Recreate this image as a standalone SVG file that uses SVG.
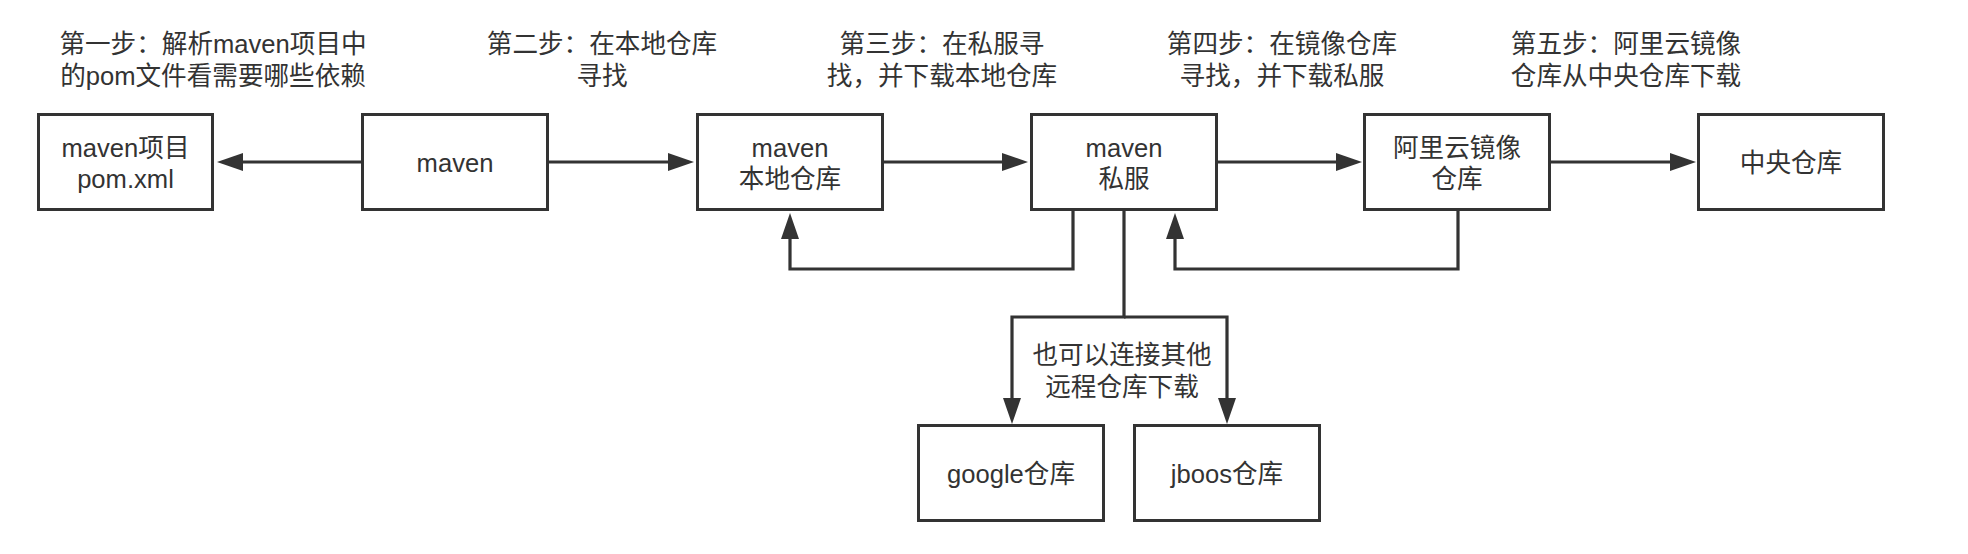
<svg xmlns="http://www.w3.org/2000/svg" width="1968" height="554" viewBox="0 0 1968 554">
<style>
.box{fill:#ffffff;stroke:#333333;stroke-width:3}
.t{font-family:"Liberation Sans","Noto Sans CJK SC",sans-serif;font-size:25.6px;fill:#333333;text-anchor:middle}
.c{fill:none;stroke:#333333;stroke-width:3.2;stroke-linejoin:miter}
</style>
<defs>
<marker id="ah" markerUnits="userSpaceOnUse" markerWidth="26" markerHeight="18" viewBox="0 0 26 18" refX="2" refY="9" orient="auto">
<path d="M0,0 L26,9 L0,18 Z" fill="#333333"/>
</marker>
</defs>
<rect width="1968" height="554" fill="#ffffff"/>
<g id="labels">
<text class="t" x="213" y="53">第一步：解析maven项目中</text>
<text class="t" x="213" y="85">的pom文件看需要哪些依赖</text>
<text class="t" x="602" y="53">第二步：在本地仓库</text>
<text class="t" x="602" y="85">寻找</text>
<text class="t" x="942" y="53">第三步：在私服寻</text>
<text class="t" x="942" y="85">找，并下载本地仓库</text>
<text class="t" x="1282" y="53">第四步：在镜像仓库</text>
<text class="t" x="1282" y="85">寻找，并下载私服</text>
<text class="t" x="1626" y="53">第五步：阿里云镜像</text>
<text class="t" x="1626" y="85">仓库从中央仓库下载</text>
</g>
<g id="connectors">
<path class="c" d="M362,162 H241" marker-end="url(#ah)"/>
<path class="c" d="M548,162 H670" marker-end="url(#ah)"/>
<path class="c" d="M882,162 H1004" marker-end="url(#ah)"/>
<path class="c" d="M1216,162 H1338" marker-end="url(#ah)"/>
<path class="c" d="M1550,162 H1672" marker-end="url(#ah)"/>
<path class="c" d="M1073,210 V269 H790 V237" marker-end="url(#ah)"/>
<path class="c" d="M1458,210 V269 H1175 V237" marker-end="url(#ah)"/>
<path class="c" d="M1124,210 V317 H1012 V400" marker-end="url(#ah)"/>
<path class="c" d="M1124,317 H1227 V400" marker-end="url(#ah)"/>
<text class="t" x="1122" y="364">也可以连接其他</text>
<text class="t" x="1122" y="396">远程仓库下载</text>
</g>
<g id="node-project">
<rect class="box" x="38.5" y="114.5" width="174" height="95"/>
<text class="t" x="125.5" y="156.5">maven项目</text>
<text class="t" x="125.5" y="188">pom.xml</text>
</g>
<g id="node-maven">
<rect class="box" x="362.5" y="114.5" width="185" height="95"/>
<text class="t" x="455" y="172">maven</text>
</g>
<g id="node-local">
<rect class="box" x="697.5" y="114.5" width="185" height="95"/>
<text class="t" x="790" y="156.5">maven</text>
<text class="t" x="790" y="188">本地仓库</text>
</g>
<g id="node-private">
<rect class="box" x="1031.5" y="114.5" width="185" height="95"/>
<text class="t" x="1124" y="156.5">maven</text>
<text class="t" x="1124" y="188">私服</text>
</g>
<g id="node-aliyun">
<rect class="box" x="1364.5" y="114.5" width="185" height="95"/>
<text class="t" x="1457" y="156.5">阿里云镜像</text>
<text class="t" x="1457" y="188">仓库</text>
</g>
<g id="node-central">
<rect class="box" x="1698.5" y="114.5" width="185" height="95"/>
<text class="t" x="1791" y="172">中央仓库</text>
</g>
<g id="node-google">
<rect class="box" x="918.5" y="425.5" width="185" height="95"/>
<text class="t" x="1011" y="483">google仓库</text>
</g>
<g id="node-jboos">
<rect class="box" x="1134.5" y="425.5" width="185" height="95"/>
<text class="t" x="1227" y="483">jboos仓库</text>
</g>
</svg>
